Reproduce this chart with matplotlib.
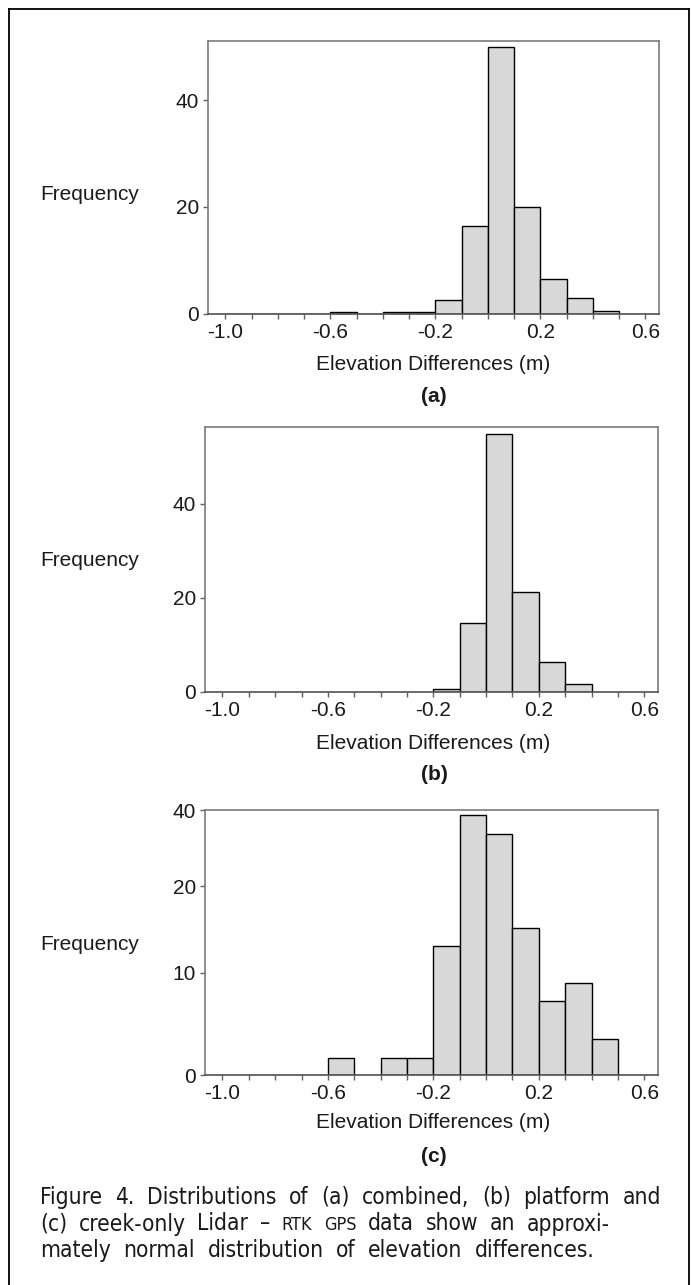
import matplotlib
matplotlib.use("Agg")
import matplotlib.pyplot as plt
import numpy as np
from matplotlib import font_manager as fm
from matplotlib.ticker import MultipleLocator, FixedLocator
from matplotlib.lines import Line2D

# ---- data (percent of points per 0.1 m bin, left bin edges) ----
bins_a = [-1.0, -0.9, -0.8, -0.7, -0.6, -0.5, -0.4, -0.3, -0.2, -0.1, 0.0, 0.1, 0.2, 0.3, 0.4]
freq_a = [0, 0, 0, 0, 0.35, 0, 0.3, 0.3, 2.6, 16.4, 50.0, 19.9, 6.5, 2.9, 0.5]

bins_b = [-0.2, -0.1, 0.0, 0.1, 0.2, 0.3]
freq_b = [0.5, 14.6, 54.9, 21.2, 6.3, 1.6]

bins_c = [-0.6, -0.4, -0.3, -0.2, -0.1, 0.0, 0.1, 0.2, 0.3, 0.4]
freq_c = [1.7, 1.7, 1.7, 13.1, 38.6, 33.7, 15.2, 7.2, 9.0, 3.5]

x_major = [-1.0, -0.6, -0.2, 0.2, 0.6]
x_labels = ["-1.0", "-0.6", "-0.2", "0.2", "0.6"]
yticks_a = [0, 20, 40]
yticks_b = [0, 20, 40]
yticks_c = [0, 10, 20, 40]

# panel (c) has an uneven frequency axis in the original figure
c_axis_vals = [0, 10, 20, 40]
c_axis_pos = [0, 102.4, 189, 265]

W, H = 691, 1285
fig = plt.figure(figsize=(W / 100, H / 100), dpi=100)
fig.patch.set_facecolor("white")

chart_font = ["Liberation Sans", "DejaVu Sans"]
txt_col = "#1a1a1a"
BAR_FILL = "#d8d8d8"


def pick_caption_font():
    # prefer a narrow face for the caption, like the printed figure
    for fam, stretch in [("Liberation Sans Narrow", "normal"), ("DejaVu Sans", "condensed")]:
        try:
            path = fm.findfont(fm.FontProperties(family=fam, stretch=stretch),
                               fallback_to_default=False)
        except ValueError:
            continue
        if "Narrow" in path or "Condensed" in path:
            return path
    return fm.findfont(fm.FontProperties(family="DejaVu Sans"))


cap_path = pick_caption_font()


def px_axes(left, top, right, bottom):
    return fig.add_axes([left / W, 1 - bottom / H, (right - left) / W, (bottom - top) / H])


def c_fwd(v):
    v = np.asarray(v, dtype=float)
    out = np.interp(v, c_axis_vals, c_axis_pos)
    out = np.where(v > 40, 265 + (v - 40) * 3.8, out)
    out = np.where(v < 0, v * 10.24, out)
    return out


def c_inv(p):
    p = np.asarray(p, dtype=float)
    out = np.interp(p, c_axis_pos, c_axis_vals)
    out = np.where(p > 265, 40 + (p - 265) / 3.8, out)
    out = np.where(p < 0, p / 10.24, out)
    return out


def style_hist(ax, lefts, freqs, ytop, yticks):
    ax.bar(lefts, freqs, width=0.1, align="edge", color=BAR_FILL,
           edgecolor="black", linewidth=1.0, zorder=2)
    ax.set_xlim(-1.066, 0.652)
    ax.set_ylim(0, ytop)
    for side in ["left", "top", "right"]:
        ax.spines[side].set_color("#7a7a7a")
        ax.spines[side].set_linewidth(1.2)
    ax.spines["bottom"].set_color("#505050")
    ax.spines["bottom"].set_linewidth(1.2)
    ax.spines["bottom"].set_zorder(3)
    ax.xaxis.set_major_locator(FixedLocator(x_major))
    ax.set_xticklabels(x_labels)
    ax.xaxis.set_minor_locator(MultipleLocator(0.1))
    ax.yaxis.set_major_locator(FixedLocator(yticks))
    ax.set_yticklabels([str(t) for t in yticks])
    ax.tick_params(axis="x", which="both", direction="out", length=3.5, width=1.0,
                   color="#606060", pad=3, labelsize=15, labelcolor=txt_col)
    ax.tick_params(axis="y", which="both", direction="out", length=3.5, width=1.0,
                   color="#606060", pad=3, labelsize=15, labelcolor=txt_col)
    for lab in ax.get_xticklabels() + ax.get_yticklabels():
        lab.set_family(chart_font)


def side_text(x, y, s, **kw):
    fig.text(x / W, 1 - y / H, s, family=chart_font, color=txt_col, **kw)


# ---- panel (a) ----
ax_a = px_axes(208, 41, 659, 313.5)
style_hist(ax_a, bins_a, freq_a, 51.1, yticks_a)

# ---- panel (b) ----
ax_b = px_axes(205, 427, 658, 691.5)
style_hist(ax_b, bins_b, freq_b, 56.4, yticks_b)

# ---- panel (c) ----
ax_c = px_axes(205, 810, 658, 1075.3)
ax_c.set_yscale("function", functions=(c_fwd, c_inv))
style_hist(ax_c, bins_c, freq_c, 40, yticks_c)

for yc, ylab, ytag, tag in [(194, 365, 397, "(a)"), (561, 743, 775, "(b)"), (945, 1123, 1157, "(c)")]:
    side_text(40, yc, "Frequency", fontsize=15, ha="left", va="center")
    side_text(433, ylab, "Elevation Differences (m)", fontsize=15, ha="center", va="center")
    side_text(434, ytag, tag, fontsize=15, ha="center", va="center", fontweight="bold")

# ---- caption ----
renderer = fig.canvas.get_renderer()


def cap_props(size):
    return fm.FontProperties(fname=cap_path, size=size)


def measure(s, size):
    t = fig.text(0, 0, s, fontproperties=cap_props(size))
    w = t.get_window_extent(renderer=renderer).width
    t.remove()
    return w


# "Figure 4." is about 88 px wide in the printed caption
cap_size = 10 * 88 / measure("Figure 4.", 10)
space_w = measure("x x", cap_size) - measure("xx", cap_size)


def draw_runs(x0, base_y, runs, target=None):
    # optionally spread the words so the line ends at target px
    extra = 0
    if target is not None:
        pieces = [(w, sc) for s, sc, g in runs for w in s.split(" ")]
        n_gaps = len(pieces) - 1
        natural = sum(measure(w, cap_size * sc) for w, sc in pieces) + n_gaps * space_w
        extra = max(0, (target - x0 - natural) / max(n_gaps, 1))
    x = x0
    for s, scale, gap in runs:
        words = s.split(" ")
        for i, word in enumerate(words):
            t = fig.text(x / W, 1 - base_y / H, word, fontproperties=cap_props(cap_size * scale),
                         ha="left", va="baseline", color=txt_col)
            x += t.get_window_extent(renderer=renderer).width
            if i < len(words) - 1:
                x += space_w + extra
        x += gap * (space_w + extra)


draw_runs(40, 1204, [("Figure 4. Distributions of (a) combined, (b) platform and", 1.0, 0)], target=661)
draw_runs(40, 1230.5, [("(c) creek-only Lidar \u2013", 1.0, 1), ("RTK GPS", 0.8, 1),
                       ("data show an approxi-", 1.0, 0)], target=610)
draw_runs(40, 1257, [("mately normal distribution of elevation differences.", 1.0, 0)], target=595)

# ---- outer frame ----
fx0, fx1, fy0 = 8.5 / W, 688.5 / W, 1 - 8.5 / H
for xs, ys in [([fx0, fx1], [fy0, fy0]), ([fx0, fx0], [fy0, 0]), ([fx1, fx1], [fy0, 0])]:
    fig.add_artist(Line2D(xs, ys, transform=fig.transFigure, color="black", linewidth=1.3))

fig.savefig("out.png", dpi=100)
